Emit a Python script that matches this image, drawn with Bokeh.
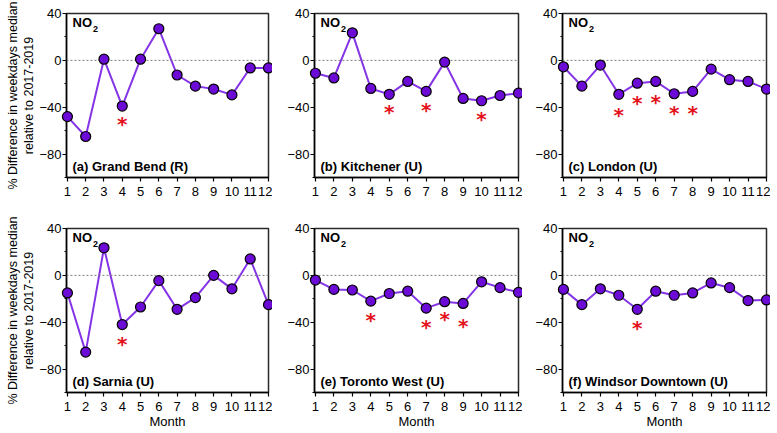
from bokeh.plotting import figure
from bokeh.layouts import row, column
from bokeh.models import FixedTicker, Span, Label, Range1d
from bokeh.core.properties import value
from bokeh.embed import file_html
from bokeh.resources import INLINE

# ---------------- data ----------------
months = list(range(1, 13))
month_labels = [str(m) for m in months]
y_ticks = [-80, -40, 0, 40]
y_minor_ticks = [-100, -60, -20, 20]
species = "NO"
species_sub = "2"
y_title_line1 = "% Difference in weekdays median"
y_title_line2 = "relative to 2017-2019"
x_title = "Month"

titles = ["(a) Grand Bend (R)", "(b) Kitchener (U)", "(c) London (U)",
          "(d) Sarnia (U)", "(e) Toronto West (U)", "(f) Windsor Downtown (U)"]

grand_bend = [-48, -65, 1, -39, 1, 27, -12.5, -22, -24.5, -29.5, -6.5, -6.5]
kitchener = [-11, -15, 23.5, -24, -29, -18, -26.5, -1.5, -32.5, -34.5, -30, -28]
london = [-5.5, -22, -4, -29, -19.5, -18, -28.5, -26.5, -7.5, -16.5, -18, -24.5]
sarnia = [-15, -65.5, 23.5, -42, -27, -4.5, -29, -19, 0, -11.5, 14, -25]
toronto_west = [-4, -12, -12.5, -22, -15.5, -13.5, -28, -22.5, -24, -5.5, -10.5, -14.5]
windsor_downtown = [-12, -25, -11.5, -17, -29, -13.5, -17, -15, -6.5, -10.5, -21.5, -21]

# significance markers (month, value where the asterisk sits)
star_months_a = [4]
star_y_a = [-50]
star_months_b = [5, 7, 10]
star_y_b = [-40, -38, -46]
star_months_c = [4, 5, 6, 7, 8]
star_y_c = [-42, -32, -31, -41, -41]
star_months_d = [4]
star_y_d = [-54]
star_months_e = [4, 7, 8, 9]
star_y_e = [-34, -40, -33, -39]
star_months_f = [5]
star_y_f = [-41]

series = [grand_bend, kitchener, london, sarnia, toronto_west, windsor_downtown]
star_months = [star_months_a, star_months_b, star_months_c,
               star_months_d, star_months_e, star_months_f]
star_ys = [star_y_a, star_y_b, star_y_c, star_y_d, star_y_e, star_y_f]

# ---------------- styling ----------------
FONT = "Liberation Sans"
LINE_COLOR = "#8434E6"
FILL_COLOR = "#6C0AD6"
STAR_COLOR = "#E3121B"

col_border_left = [66, 42, 40]
col_border_right = [4, 4, 4]
col_frame_w = [202, 204, 204]
row_border_top = [13, 13]
row_border_bottom = [38, 40]
FRAME_H = 164
X_START, X_END = 0.95, 12.0
Y_START, Y_END = -100, 40

y_title = y_title_line1 + "\n" + y_title_line2


def make_panel(i):
    c = i % 3
    r = i // 3
    p = figure(frame_width=col_frame_w[c], frame_height=FRAME_H,
               x_range=Range1d(X_START, X_END), y_range=Range1d(Y_START, Y_END),
               output_backend="svg", toolbar_location=None,
               min_border_left=col_border_left[c], min_border_right=col_border_right[c],
               min_border_top=row_border_top[r], min_border_bottom=row_border_bottom[r],
               background_fill_color="white", border_fill_color="white")
    p.grid.visible = False
    p.outline_line_color = "#2a2a2a"
    p.outline_line_width = 1.5

    p.xaxis.ticker = FixedTicker(ticks=months)
    p.xaxis.major_label_overrides = {m: l for m, l in zip(months, month_labels)}
    p.yaxis.ticker = FixedTicker(ticks=y_ticks, minor_ticks=y_minor_ticks)
    for ax in (p.xaxis, p.yaxis):
        ax.axis_line_color = "black"
        ax.axis_line_width = 1.5
        ax.major_tick_in = 0
        ax.major_tick_out = 4
        ax.major_tick_line_color = "black"
        ax.major_tick_line_width = 1.2
        ax.minor_tick_in = 0
        ax.minor_tick_out = 2
        ax.minor_tick_line_color = "black"
        ax.major_label_text_font = FONT
        ax.major_label_text_font_size = "13px"
        ax.major_label_text_color = "black"
        ax.axis_label_text_font = FONT
        ax.axis_label_text_font_size = "13px"
        ax.axis_label_text_font_style = "normal"
        ax.axis_label_text_color = "black"
    p.xaxis.minor_tick_out = 0
    p.xaxis.major_label_standoff = 5
    p.yaxis.major_label_standoff = 1

    if c == 0:
        p.yaxis.axis_label = y_title
        p.yaxis.axis_label_standoff = 0
        p.yaxis.axis_label_text_font_size = "12.5px"
        p.yaxis.axis_label_text_line_height = 1.15
    if r == 1:
        p.xaxis.axis_label = x_title
        p.xaxis.axis_label_standoff = 0

    p.add_layout(Span(location=0, dimension="width", line_color="#7a7a7a",
                      line_dash="2 2", line_width=1))

    p.line(months, series[i], line_color=LINE_COLOR, line_width=2)
    p.scatter(months, series[i], size=10, fill_color=FILL_COLOR,
              line_color="black", line_width=1.2, level="overlay")

    sm = star_months[i]
    p.text(x=sm, y=star_ys[i], text=["*"] * len(sm), text_color=STAR_COLOR,
           text_font=value("DejaVu Sans"), text_font_style="bold",
           text_font_size="20px", text_align="center", text_baseline="middle",
           y_offset=5)

    p.add_layout(Label(x=X_START, y=Y_END, x_offset=6, y_offset=-16.5, text=species,
                       text_baseline="bottom", text_align="left", text_font=FONT,
                       text_font_style="bold", text_font_size="13px",
                       text_color="black"))
    p.add_layout(Label(x=X_START, y=Y_END, x_offset=26.5, y_offset=-18, text=species_sub,
                       text_baseline="bottom", text_align="left", text_font=FONT,
                       text_font_style="bold", text_font_size="9px",
                       text_color="black"))
    p.add_layout(Label(x=X_START, y=Y_START, x_offset=6, y_offset=4, text=titles[i],
                       text_baseline="bottom", text_align="left", text_font=FONT,
                       text_font_style="bold", text_font_size="13px",
                       text_color="black"))
    return p


panels = [make_panel(i) for i in range(6)]
layout = column(row(*panels[:3]), row(*panels[3:]))

with open("out.html", "w") as f:
    f.write(file_html(layout, INLINE))
